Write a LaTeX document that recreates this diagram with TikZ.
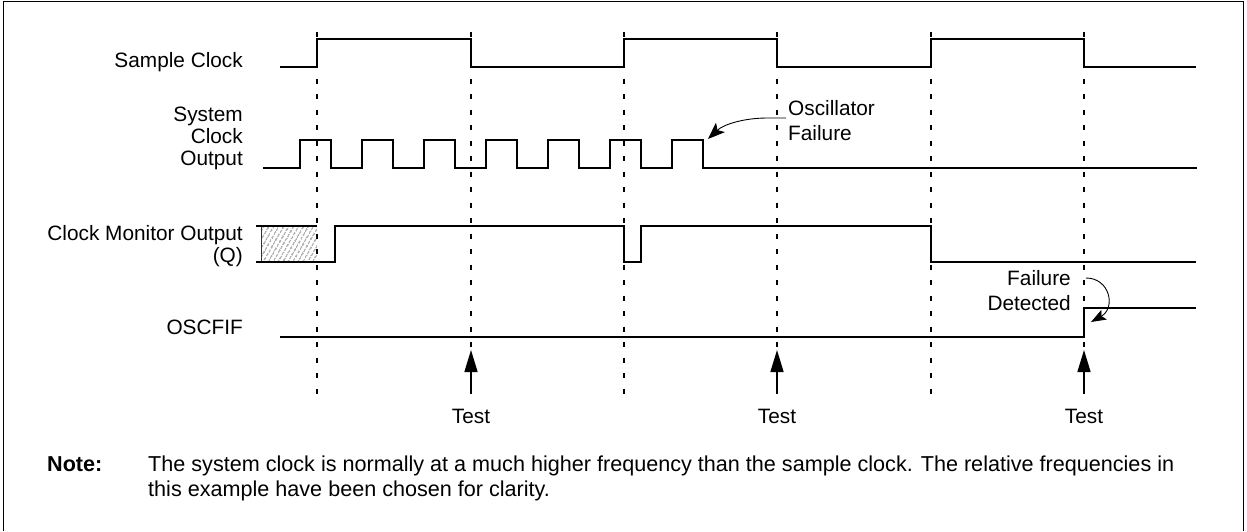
\documentclass[tikz,border=0pt]{standalone}
\usepackage{fontspec}
\setmainfont{Liberation Sans}
\usetikzlibrary{arrows.meta,patterns.meta}
\begin{document}
\begin{tikzpicture}[x=1pt,y=-1pt,
  wave/.style={line width=1.5pt, line join=miter},
  guide/.style={line width=1.3pt, dash pattern=on 5pt off 10.5pt},
  lbl/.style={font=\fontsize{20.8}{25}\selectfont, inner sep=0pt, anchor=base east},
  lblw/.style={font=\fontsize{20.8}{25}\selectfont, inner sep=0pt, anchor=base west},
  lblc/.style={font=\fontsize{20.8}{25}\selectfont, inner sep=0pt, anchor=base},
  notetxt/.style={font=\fontsize{21.6}{25}\selectfont, inner sep=0pt, anchor=base west},
  testarrow/.style={line width=1.5pt, -{Triangle[length=22pt,width=13pt]}},
  callout/.style={line width=0.9pt, -{Stealth[length=17pt,width=13pt,inset=4pt]}}]
\useasboundingbox (0,0) rectangle (1247,531);
\draw[line width=1pt] (3,531) -- (3,1) -- (1243,1) -- (1243,531);

% vertical guides
\foreach \x in {317,471,624,777,931,1084}
  \draw[guide] (\x,32) -- (\x,403);

% labels
\node[lbl] (lsc) at (243,67) {Sample Clock};
\node[lbl] (lsy1) at (243,121.5) {System};
\node[lbl] (lsy2) at (243,143.3) {Clock};
\node[lbl] (lsy3) at (243,165) {Output};
\node[lbl] (lcm1) at (243,240) {Clock Monitor Output};
\node[lbl] (lcm2) at (243,262) {(Q)};
\node[lbl] (los) at (243,334) {OSCFIF};

% sample clock
\draw[wave] (280,67) -- (317,67) -- (317,39) -- (471,39) -- (471,67) -- (624,67)
  -- (624,39) -- (777,39) -- (777,67) -- (931,67) -- (931,39) -- (1084,39)
  -- (1084,67) -- (1196,67);

% system clock
\draw[wave] (263,168) \foreach \k in {0,...,6}{ -- ({300+62*\k},168) |- ({331+62*\k},140) -- ({331+62*\k},168) } -- (1197,168);

% clock monitor output
\fill[pattern={Lines[angle=60,distance=4pt,line width=0.7pt]}, pattern color=black!85] (261,226) rectangle (317,262);
\draw[black!80, line width=0.6pt] (261,226) -- (261,262);
\draw[wave] (256,226) -- (317,226);
\draw[wave] (256,262) -- (335,262) -- (335,226) -- (624,226) -- (624,262) -- (641,262)
  -- (641,226) -- (931,226) -- (931,262) -- (1196,262);

% OSCFIF
\draw[wave] (280,337) -- (1084,337) -- (1084,308) -- (1196,308);

% test arrows
\foreach \x/\n in {471/1,777/2,1084/3}{
  \coordinate (ta\n) at (\x,393);
  \coordinate (tb\n) at (\x,350);
  \draw[testarrow] (ta\n) -- (tb\n);
  \node[lblc] (test\n) at (\x,423) {Test};
}

% oscillator failure
\node[lblw] (of1) at (788,115.7) {Oscillator};
\node[lblw] (of2) at (788,140) {Failure};
\coordinate (ofs) at (786,118);
\coordinate (oft) at (708,139);
\draw[callout] (ofs) -- (767,118) .. controls (745,118) and (724,124) .. (oft);

% failure detected
\node[lbl] (fd1) at (1071,285) {Failure};
\node[lbl] (fd2) at (1071,310) {Detected};
\coordinate (fds) at (1086,278);
\coordinate (fdt) at (1091,322);
\draw[callout, -{Stealth[length=15pt,width=11pt,inset=3pt]}] (fds) .. controls (1110,278) and (1116,308) .. (fdt);

% note
\node[notetxt, font=\bfseries\fontsize{21.6}{25}\selectfont] (nl) at (47,471) {Note:};
\node[notetxt] (n1) at (148,471) {The system clock is normally at a much higher frequency than the sample clock. The relative frequencies in};
\node[notetxt] (n2) at (148,496) {this example have been chosen for clarity.};
\end{tikzpicture}
\end{document}
